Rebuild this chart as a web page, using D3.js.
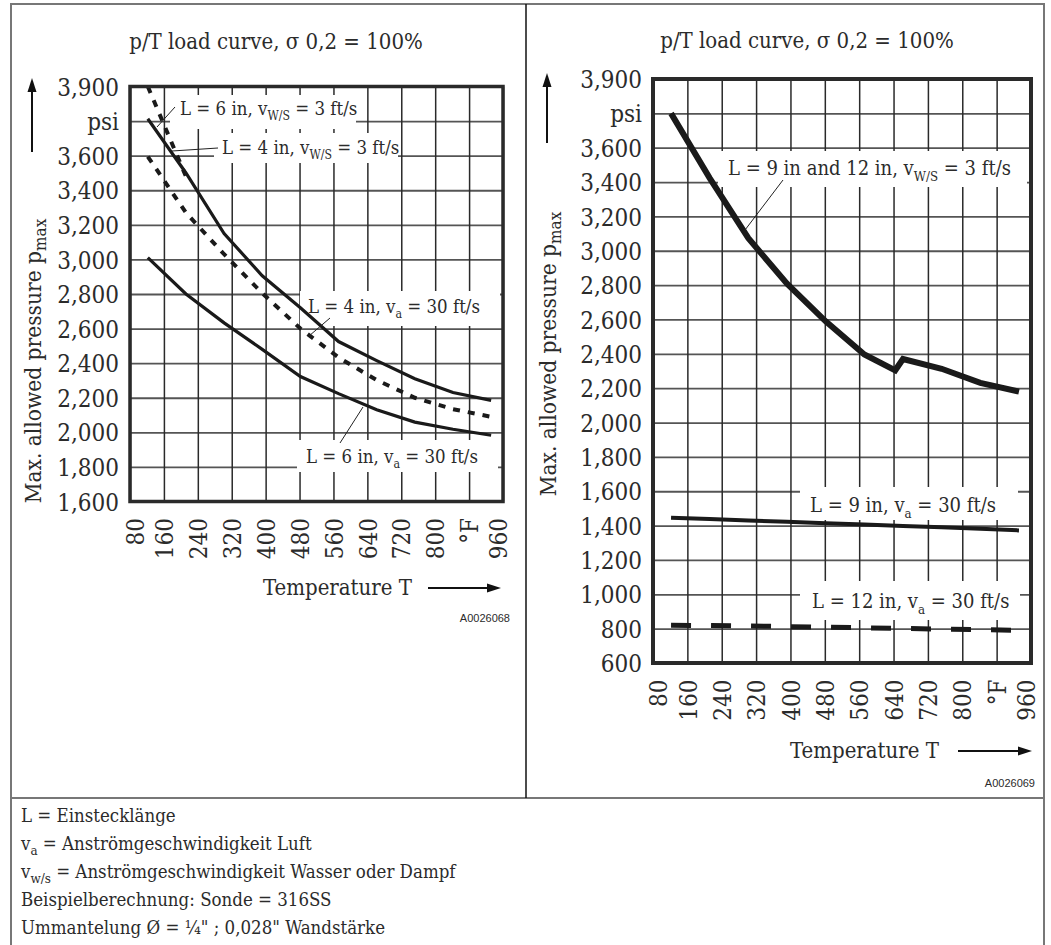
<!DOCTYPE html>
<html>
<head>
<meta charset="utf-8">
<script src="https://cdn.jsdelivr.net/npm/d3@7"></script>
<style>
body { margin: 0; background: #fff; }
svg text { font-family: "DejaVu Serif Condensed", "DejaVu Serif", serif; font-stretch: condensed; fill: #2b2b2b; }
svg text.code { font-family: "Liberation Sans", Arial, sans-serif; font-stretch: normal; }
</style>
</head>
<body>
<svg id="chart" width="1051" height="945"></svg>
<script>
// x axis, temperature in °F
var xTicks = [80, 160, 240, 320, 400, 480, 560, 640, 720, 800, 880, 960];
var xTickLabels = ["80", "160", "240", "320", "400", "480", "560", "640", "720", "800", "°F", "960"];

// temperatures where the curves were read (°F)
var tempF = [122, 212, 302, 392, 482, 572, 662, 752, 842, 932];

// left chart (L = 4 in / 6 in)
var yTicksLeft = [1600, 1800, 2000, 2200, 2400, 2600, 2800, 3000, 3200, 3400, 3600, 3750, 3900];
var yLabelsLeft = ["1,600", "1,800", "2,000", "2,200", "2,400", "2,600", "2,800", "3,000", "3,200", "3,400", "3,600", "psi", "3,900"];
var tempL6ws = [122, 212];
var pL6ws = [3900, 3480];
var pL4ws = [3760, 3500, 3150, 2905, 2720, 2525, 2415, 2310, 2230, 2185];
var pL4a = [3595, 3270, 3030, 2805, 2600, 2433, 2302, 2200, 2134, 2090];
var pL6a = [3010, 2800, 2633, 2480, 2323, 2224, 2131, 2059, 2018, 1983];

// right chart (L = 9 in / 12 in)
var yTicksRight = [600, 800, 1000, 1200, 1400, 1600, 1800, 2000, 2200, 2400, 2600, 2800, 3000, 3200, 3400, 3600, 3750, 3900];
var yLabelsRight = ["600", "800", "1,000", "1,200", "1,400", "1,600", "1,800", "2,000", "2,200", "2,400", "2,600", "2,800", "3,000", "3,200", "3,400", "3,600", "psi", "3,900"];
var tempR9ws = [122, 212, 302, 392, 482, 572, 644, 662, 752, 842, 932];
var pR9ws = [3750, 3423, 3073, 2808, 2589, 2396, 2304, 2370, 2313, 2231, 2180];
var pR9a = [1445, 1438, 1430, 1422, 1414, 1406, 1398, 1390, 1381, 1372];
var pR12a = [820, 818, 815, 812, 808, 805, 801, 797, 794, 790];

var chartTitle = "p/T load curve, σ 0,2 = 100%";

// legend below the charts
var legendLines = [
	[["L = Einstecklänge"]],
	[["v"], ["a", true], [" = Anströmgeschwindigkeit Luft"]],
	[["v"], ["w/s", true], [" = Anströmgeschwindigkeit Wasser oder Dampf"]],
	[["Beispielberechnung: Sonde = 316SS"]],
	[["Ummantelung Ø = ¼\" ; 0,028\" Wandstärke"]]
];

var svg = d3.select("#chart");

// text with subscripts
function addText(g, x, y, parts, size, subScale) {
	var t = g.append("text").attr("x", x).attr("y", y).style("font-size", size + "px");
	var shifted = false;
	parts.forEach(function(p) {
		var ts = t.append("tspan").text(p[0]);
		if (p[1]) {
			ts.style("font-size", (size * (subScale || 0.72)) + "px").attr("dy", shifted ? 0 : size * 0.28);
			shifted = true;
		} else if (shifted) {
			ts.attr("dy", -size * 0.28);
			shifted = false;
		}
	});
	return t;
}

function arrow(g, x1, y1, x2, y2) {
	var a = Math.atan2(y2 - y1, x2 - x1), len = 14, w = 4.5;
	var bx = x2 - len * Math.cos(a), by = y2 - len * Math.sin(a);
	g.append("line").attr("x1", x1).attr("y1", y1).attr("x2", bx).attr("y2", by)
		.attr("stroke", "#111").attr("stroke-width", 2);
	g.append("path")
		.attr("d", "M" + x2 + "," + y2 +
			"L" + (bx + w * Math.sin(a)) + "," + (by - w * Math.cos(a)) +
			"L" + (bx - w * Math.sin(a)) + "," + (by + w * Math.cos(a)) + "Z")
		.attr("fill", "#111");
}

function drawPanel(cfg) {
	var g = svg.append("g");
	var x = d3.scaleLinear().domain([80, 960]).range([cfg.left, cfg.right]);
	// rows are equally spaced; the row above 3,600 is "psi", the top is 3,900
	var step = (cfg.bottom - cfg.top) / ((3600 - cfg.yMin) / 200 + 2);
	var y = d3.scaleLinear().domain([cfg.yMin, 3600, 3900])
		.range([cfg.bottom, cfg.top + 2 * step, cfg.top]);
	var plotW = cfg.right - cfg.left, plotH = cfg.bottom - cfg.top;

	// y axis + horizontal grid
	var yAxisG = g.append("g").attr("transform", "translate(" + cfg.left + ",0)")
		.call(d3.axisLeft(y).tickValues(cfg.yTicks)
			.tickFormat(function(d, i) { return cfg.yLabels[i]; })
			.tickSize(-plotW).tickPadding(11))
		.attr("font-size", 24).attr("font-family", null);
	yAxisG.select(".domain").remove();
	yAxisG.selectAll("line").attr("stroke", "#555").attr("stroke-width", 1.8);
	yAxisG.selectAll("text").attr("fill", "#2b2b2b").attr("dy", "0.36em");

	// x axis + vertical grid
	var n = xTicks.length;
	var xAxisG = g.append("g").attr("transform", "translate(0," + cfg.bottom + ")")
		.call(d3.axisBottom(x).tickValues(xTicks)
			.tickFormat(function(d, i) { return xTickLabels[i]; })
			.tickSize(-plotH))
		.attr("font-size", 24).attr("font-family", null);
	xAxisG.select(".domain").remove();
	xAxisG.selectAll("line").attr("stroke", "#2a2a2a").attr("stroke-width", 1.5);
	xAxisG.selectAll("text")
		.attr("fill", "#2b2b2b")
		.attr("transform", "rotate(-90)")
		.attr("text-anchor", "end")
		.attr("x", -16.5)
		.attr("y", function(d, i) { return i === 0 ? 5 : (i === n - 1 ? -5 : 0); })
		.attr("dy", "0.36em");

	// white boxes behind the curve labels
	cfg.notes.forEach(function(nt) {
		g.append("rect").attr("x", nt.box[0]).attr("y", nt.box[1])
			.attr("width", nt.box[2] - nt.box[0]).attr("height", nt.box[3] - nt.box[1])
			.attr("fill", "#fff");
	});

	// curves
	var line = d3.line().x(function(d) { return x(d[0]); }).y(function(d) { return y(d[1]); });
	cfg.series.forEach(function(s) {
		g.append("path")
			.datum(d3.zip(s.t, s.p))
			.attr("d", line)
			.attr("fill", "none")
			.attr("stroke", "#1a1a1a")
			.attr("stroke-width", s.width)
			.attr("stroke-dasharray", s.dash)
			.attr("stroke-linejoin", "miter");
	});

	// plot frame
	g.append("rect").attr("x", cfg.left).attr("y", cfg.top)
		.attr("width", plotW).attr("height", plotH)
		.attr("fill", "none").attr("stroke", "#2a2a2a").attr("stroke-width", cfg.frame);

	// curve labels and leaders
	cfg.notes.forEach(function(nt) {
		if (nt.leader) {
			g.append("line")
				.attr("x1", nt.leader[0]).attr("y1", nt.leader[1])
				.attr("x2", nt.leader[2]).attr("y2", nt.leader[3])
				.attr("stroke", "#222").attr("stroke-width", 1);
		}
		addText(g, nt.x, nt.y, nt.parts, cfg.noteSize, 0.66);
	});

	// titles
	g.append("text").attr("x", cfg.titleX).attr("y", cfg.titleY)
		.attr("text-anchor", "middle").style("font-size", "22px").text(chartTitle);

	var yt = g.append("text")
		.attr("transform", "translate(" + cfg.yTitle[0] + "," + cfg.yTitle[1] + ") rotate(-90)")
		.attr("text-anchor", "middle").style("font-size", "22.5px");
	yt.append("tspan").text("Max. allowed pressure p");
	yt.append("tspan").text("max").style("font-size", "17px").attr("dy", 5);
	arrow(g, cfg.yArrow[0], cfg.yArrow[1], cfg.yArrow[0], cfg.yArrow[2]);

	g.append("text").attr("x", cfg.xTitle[0]).attr("y", cfg.xTitle[1])
		.style("font-size", "22px").text("Temperature T");
	arrow(g, cfg.xArrow[0], cfg.xArrow[2], cfg.xArrow[1], cfg.xArrow[2]);

	g.append("text").attr("class", "code").attr("x", cfg.code[0]).attr("y", cfg.code[1])
		.attr("text-anchor", "end").style("font-size", "11px").text(cfg.codeText);
}

// outer frame
svg.append("path").attr("d", "M11,945V4H1044V945")
	.attr("fill", "none").attr("stroke", "#777").attr("stroke-width", 2);
svg.append("line").attr("x1", 11).attr("x2", 1044).attr("y1", 798).attr("y2", 798)
	.attr("stroke", "#777").attr("stroke-width", 2);
svg.append("line").attr("x1", 526).attr("x2", 526).attr("y1", 4).attr("y2", 798)
	.attr("stroke", "#111").attr("stroke-width", 1.5);

drawPanel({
	left: 130, right: 503, top: 86.5, bottom: 501.5, yMin: 1600, frame: 3.5, noteSize: 18.5,
	yTicks: yTicksLeft, yLabels: yLabelsLeft,
	series: [
		{ t: tempL6ws, p: pL6ws, width: 4, dash: "7,8" },
		{ t: tempF, p: pL4ws, width: 3.2, dash: null },
		{ t: tempF, p: pL4a, width: 4, dash: "7,8" },
		{ t: tempF, p: pL6a, width: 3.2, dash: null }
	],
	notes: [
		{ x: 180, y: 115, box: [170, 95, 356, 129], leader: [157, 127, 175, 107],
			parts: [["L = 6 in, v"], ["W/S", true], [" = 3 ft/s"]] },
		{ x: 222, y: 154, box: [214, 133, 398, 163], leader: [172, 151, 218, 148],
			parts: [["L = 4 in, v"], ["W/S", true], [" = 3 ft/s"]] },
		{ x: 308, y: 313, box: [300, 291, 500, 326], leader: [330, 318, 309, 336],
			parts: [["L = 4 in, v"], ["a", true], [" = 30 ft/s"]] },
		{ x: 306, y: 463, box: [297, 440, 498, 472], leader: [340, 443, 363, 407],
			parts: [["L = 6 in, v"], ["a", true], [" = 30 ft/s"]] }
	],
	titleX: 276, titleY: 49,
	yTitle: [41, 361], yArrow: [32, 152, 78],
	xTitle: [263, 595], xArrow: [428, 501, 588],
	code: [510, 622], codeText: "A0026068"
});

drawPanel({
	left: 653, right: 1031, top: 79, bottom: 663, yMin: 600, frame: 4, noteSize: 20,
	yTicks: yTicksRight, yLabels: yLabelsRight,
	series: [
		{ t: tempR9ws, p: pR9ws, width: 6, dash: null },
		{ t: tempF, p: pR9a, width: 4, dash: null },
		{ t: tempF, p: pR12a, width: 5, dash: "20,20" }
	],
	notes: [
		{ x: 728, y: 175, box: [718, 151, 1027, 187], leader: [745, 230, 783, 180],
			parts: [["L = 9 in and 12 in, v"], ["W/S", true], [" = 3 ft/s"]] },
		{ x: 810, y: 512, box: [800, 487, 1018, 520],
			parts: [["L = 9 in, v"], ["a", true], [" = 30 ft/s"]] },
		{ x: 812, y: 608, box: [800, 581, 1020, 620],
			parts: [["L = 12 in, v"], ["a", true], [" = 30 ft/s"]] }
	],
	titleX: 807, titleY: 48,
	yTitle: [556, 354], yArrow: [547, 143, 73],
	xTitle: [790, 758], xArrow: [958, 1032, 751],
	code: [1035, 787], codeText: "A0026069"
});

// legend
var legendG = svg.append("g");
legendLines.forEach(function(parts, i) {
	addText(legendG, 21, 822 + i * 28, parts, 18.5);
});
</script>
</body>
</html>
